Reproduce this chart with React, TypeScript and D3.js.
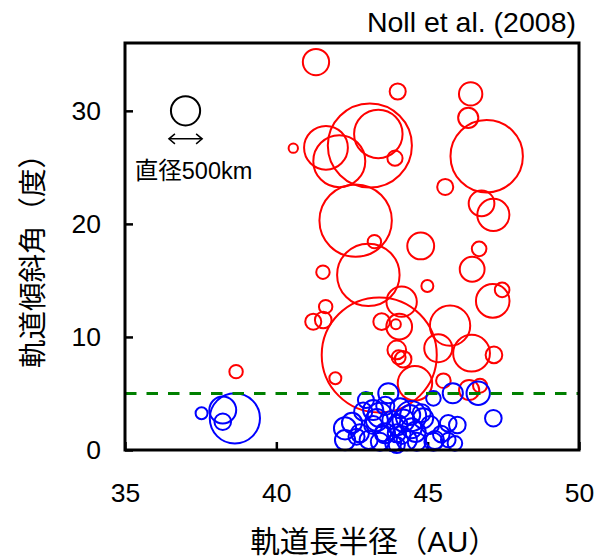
import React, { useRef, useEffect } from 'react';
import * as d3 from 'd3';

// orbital semi-major axis (AU), inclination (deg), diameter (km)
const hotObjects: number[][] = [
  [41.31, 34.31, 450], [44.01, 31.71, 275], [43.09, 26.93, 1440], [43.37, 27.96, 830],
  [43.92, 25.81, 260], [41.64, 26.73, 750], [42.08, 25.55, 890], [40.56, 26.7, 160],
  [42.62, 20.29, 1240], [46.42, 31.5, 400], [46.34, 29.38, 345], [46.95, 25.99, 1240],
  [45.58, 23.27, 275], [46.78, 21.81, 440], [47.17, 20.8, 550], [43.24, 18.43, 230],
  [43.04, 15.49, 1070], [41.54, 15.73, 230], [44.77, 18.05, 460], [44.99, 14.51, 205],
  [44.14, 13.12, 520], [41.63, 12.68, 230], [41.22, 11.35, 275], [41.55, 11.5, 285],
  [43.4, 8.41, 1970], [43.48, 11.35, 285], [44.06, 10.91, 440], [43.95, 11.12, 170],
  [43.98, 8.85, 320], [44.04, 8.2, 240], [44.19, 8.03, 285], [41.95, 6.35, 205],
  [44.58, 5.9, 590], [46.7, 17.79, 250], [46.47, 15.99, 425], [47.15, 13.19, 575],
  [47.46, 14.16, 250], [45.74, 11.0, 690], [45.35, 9.0, 480], [46.45, 8.56, 630],
  [47.19, 8.41, 285], [45.52, 6.13, 250], [46.37, 5.31, 345], [46.73, 5.69, 240],
  [38.67, 6.93, 230],
];

const coldObjects: number[][] = [
  [37.53, 3.25, 205], [38.23, 3.54, 460], [38.23, 2.5, 285], [38.63, 2.8, 860],
  [42.27, 1.92, 380], [42.27, 0.88, 345], [42.76, 1.48, 310], [42.87, 3.39, 310],
  [42.65, 1.18, 275], [43.7, 5.02, 345], [43.2, 3.54, 345], [43.32, 2.65, 380],
  [43.42, 3.1, 415], [43.2, 2.21, 310], [43.59, 1.48, 345], [43.42, 0.73, 310],
  [43.53, 1.48, 275], [43.98, 1.48, 310], [43.86, 0.59, 275], [44.09, 3.69, 345],
  [44.45, 3.0, 520], [44.42, 3.1, 345], [44.47, 1.92, 345], [44.14, 1.33, 310],
  [43.98, 0.44, 275], [44.64, 0.73, 310], [44.31, 0.88, 345], [44.8, 3.25, 310],
  [45.08, 2.21, 310], [45.19, 0.73, 310], [45.19, 4.57, 250], [45.83, 5.02, 345],
  [46.67, 5.02, 400], [47.17, 2.81, 285], [45.68, 2.36, 285], [45.98, 2.21, 285],
  [45.68, 0.88, 250], [45.9, 0.59, 250], [45.24, 0.88, 310], [44.85, 2.81, 345],
  [43.8, 2.65, 310], [42.96, 4.42, 275], [42.5, 2.4, 345], [43.05, 0.9, 310],
  [44.2, 2.6, 380], [44.6, 1.6, 345], [43.6, 3.9, 310], [44.0, 2.2, 345],
  [45.45, 1.4, 285],
];

const xTicks = [35, 40, 45, 50];
const yTicks = [0, 10, 20, 30];
const boundaryInc = 5;
const legendSize = 500;
const legendPos = [37, 30];

const font = "'Liberation Sans', Arial, 'Noto Sans CJK JP', sans-serif";

export default function App() {
  const svgRef = useRef<SVGSVGElement>(null);

  useEffect(() => {
    const svg = d3.select(svgRef.current);
    svg.selectAll('*').remove();

    const left = 125, right = 579, top = 43, bottom = 450;

    const xScale = d3.scaleLinear().domain([35, 50]).range([left, right]);
    const yScale = d3.scaleLinear().domain([0, 36]).range([bottom, top]);
    const rScale = d3.scaleLinear().domain([0, legendSize]).range([0, 14.6]);

    // axes
    const xAxis = d3.axisBottom(xScale)
      .tickValues(xTicks)
      .tickSizeInner(-8)
      .tickSizeOuter(0)
      .tickPadding(33);
    const xAxisG = svg.append('g')
      .attr('transform', `translate(0,${bottom})`)
      .call(xAxis);
    xAxisG.select('.domain').remove();
    xAxisG.selectAll('line').attr('stroke', '#000').attr('stroke-width', 2.5);
    xAxisG.selectAll('text').style('font', `26.5px ${font}`).attr('fill', '#000');

    const yAxis = d3.axisLeft(yScale)
      .tickValues(yTicks)
      .tickSizeInner(-8)
      .tickSizeOuter(0)
      .tickPadding(24);
    const yAxisG = svg.append('g')
      .attr('transform', `translate(${left},0)`)
      .call(yAxis);
    yAxisG.select('.domain').remove();
    yAxisG.selectAll('line').attr('stroke', '#000').attr('stroke-width', 2.5);
    yAxisG.selectAll('text').style('font', `26.5px ${font}`).attr('fill', '#000');

    // circles
    const g = svg.append('g');
    g.selectAll('circle.hot').data(hotObjects)
      .enter().append('circle')
        .attr('class', 'hot')
        .attr('cx', d => xScale(d[0]))
        .attr('cy', d => yScale(d[1]))
        .attr('r', d => rScale(d[2]))
        .attr('fill', 'none')
        .attr('stroke', '#ff0000')
        .attr('stroke-width', 2);

    g.selectAll('circle.cold').data(coldObjects)
      .enter().append('circle')
        .attr('class', 'cold')
        .attr('cx', d => xScale(d[0]))
        .attr('cy', d => yScale(d[1]))
        .attr('r', d => rScale(d[2]))
        .attr('fill', 'none')
        .attr('stroke', '#0000ff')
        .attr('stroke-width', 2);

    // 5 deg boundary
    svg.append('line')
      .attr('x1', xScale(35)).attr('x2', xScale(50))
      .attr('y1', yScale(boundaryInc)).attr('y2', yScale(boundaryInc))
      .attr('stroke', '#008000')
      .attr('stroke-width', 3)
      .attr('stroke-dasharray', '11.5 10');

    // frame
    svg.append('rect')
      .attr('x', left).attr('y', top)
      .attr('width', right - left).attr('height', bottom - top)
      .attr('fill', 'none')
      .attr('stroke', '#000')
      .attr('stroke-width', 3);

    // legend
    const lx = xScale(legendPos[0]), ly = yScale(legendPos[1]);
    svg.append('circle')
      .attr('cx', lx).attr('cy', ly)
      .attr('r', rScale(legendSize))
      .attr('fill', 'none').attr('stroke', '#000').attr('stroke-width', 2);
    const ay = ly + 28, half = rScale(legendSize) + 2;
    svg.append('line')
      .attr('x1', lx - half).attr('x2', lx + half)
      .attr('y1', ay).attr('y2', ay)
      .attr('stroke', '#000').attr('stroke-width', 1.5);
    svg.append('path')
      .attr('d', `M${lx - half + 6},${ay - 5}L${lx - half},${ay}L${lx - half + 6},${ay + 5}` +
        `M${lx + half - 6},${ay - 5}L${lx + half},${ay}L${lx + half - 6},${ay + 5}`)
      .attr('fill', 'none').attr('stroke', '#000').attr('stroke-width', 1.5);
    svg.append('text')
      .attr('x', lx + 8).attr('y', ly + 68)
      .attr('text-anchor', 'middle')
      .style('font', `23.5px ${font}`)
      .text('直径500km');

    // title
    svg.append('text')
      .attr('x', 576).attr('y', 32)
      .attr('text-anchor', 'end')
      .style('font', `28.5px ${font}`)
      .text('Noll et al. (2008)');

    // axis labels
    svg.append('text')
      .attr('x', 374).attr('y', 552)
      .attr('text-anchor', 'middle')
      .style('font', `29.5px ${font}`)
      .text('軌道長半径（AU）');

    svg.append('text')
      .attr('transform', 'translate(43,254) rotate(-90)')
      .attr('text-anchor', 'middle')
      .style('font', `28.5px ${font}`)
      .text('軌道傾斜角（度）');
  }, []);

  return (
    <svg
      ref={svgRef}
      width={606}
      height={558}
      style={{ position: 'absolute', left: 0, top: 0, background: '#fff' }}
    />
  );
}
